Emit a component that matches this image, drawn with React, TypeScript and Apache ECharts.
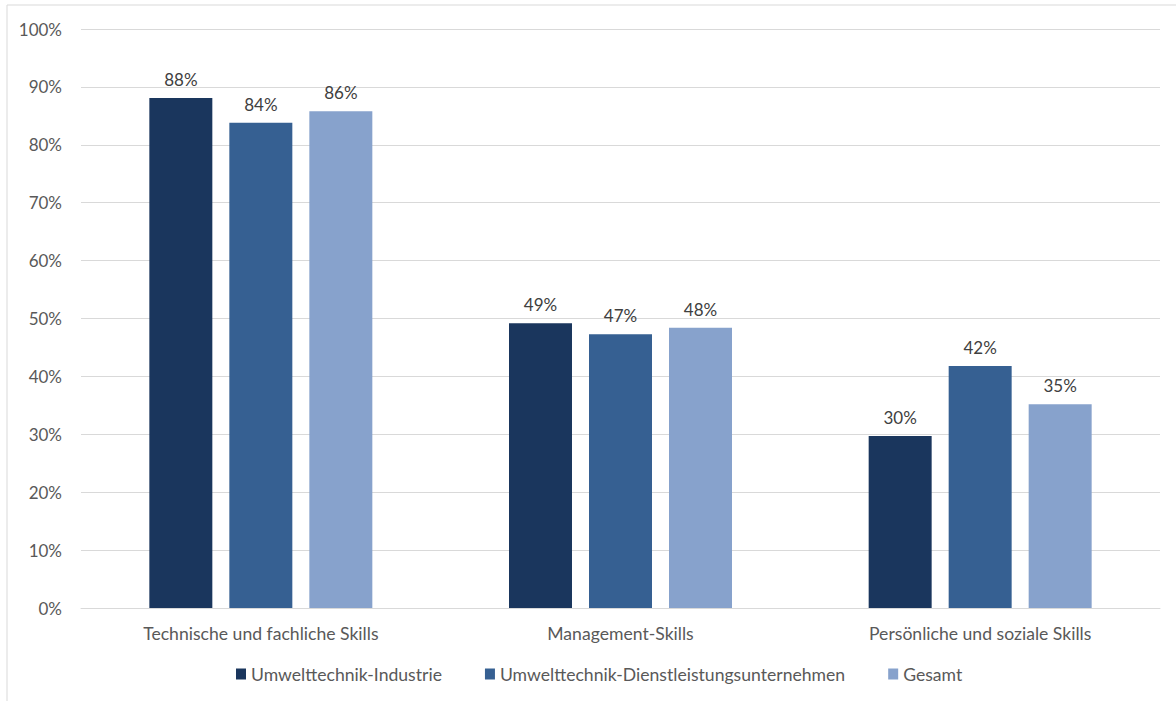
import React, { useEffect, useRef } from "react";
import * as echarts from "echarts";

const categories = ["Technische und fachliche Skills", "Management-Skills", "Persönliche und soziale Skills"];
const seriesNames = ["Umwelttechnik-Industrie", "Umwelttechnik-Dienstleistungsunternehmen", "Gesamt"];
const industrie = [88.1, 49.2, 29.7];
const dienstleistung = [83.8, 47.3, 41.8];
const gesamt = [85.8, 48.4, 35.2];
const colors = ["#1a365d", "#366092", "#87a2cc"];
const yTicks = [0, 10, 20, 30, 40, 50, 60, 70, 80, 90, 100];

const FONT = "Lato, 'Open Sans', sans-serif";
const FS = 17;
const FS_BIG = 17.6;

export default function App() {
  const ref = useRef<HTMLDivElement>(null);
  useEffect(() => {
    document.body.style.margin = "0";
    const chart = echarts.init(ref.current!, undefined, { renderer: "svg" });
    const values = [industrie, dienstleistung, gesamt];
    chart.setOption({
      animation: false,
      textStyle: { fontFamily: FONT },
      graphic: [
        {
          type: "rect",
          shape: { x: 7, y: 5, width: 1200, height: 720 },
          style: { fill: "none", stroke: "#d9d9d9", lineWidth: 1 },
          silent: true,
        },
      ],
      grid: { left: 81, right: 16, top: 29, bottom: 93, containLabel: false },
      legend: {
        top: 660,
        left: 231,
        icon: "rect",
        itemWidth: 10,
        itemHeight: 11,
        itemGap: 43,
        textStyle: { color: "#595959", fontSize: FS_BIG, fontFamily: FONT },
        data: seriesNames,
      },
      xAxis: {
        type: "category",
        data: categories,
        axisLine: { lineStyle: { color: "#d9d9d9" } },
        axisTick: { show: false },
        axisLabel: { color: "#595959", fontSize: FS_BIG, margin: 16, fontFamily: FONT },
      },
      yAxis: {
        type: "value",
        min: yTicks[0],
        max: yTicks[yTicks.length - 1],
        interval: 10,
        axisLine: { show: false },
        axisTick: { show: false },
        splitLine: { lineStyle: { color: "#d9d9d9" } },
        axisLabel: { color: "#595959", fontSize: FS, margin: 19, formatter: "{value}%", fontFamily: FONT },
      },
      series: seriesNames.map((name, i) => ({
        name,
        type: "bar",
        data: values[i],
        itemStyle: { color: colors[i] },
        barGap: "27%",
        barCategoryGap: "38%",
        label: {
          show: true,
          position: "top",
          distance: 10,
          color: "#404040",
          fontSize: FS,
          fontFamily: FONT,
          formatter: (p: any) => Math.round(p.value) + "%",
        },
      })),
    });
    return () => chart.dispose();
  }, []);
  return <div ref={ref} style={{ width: 1176, height: 701 }} />;
}
